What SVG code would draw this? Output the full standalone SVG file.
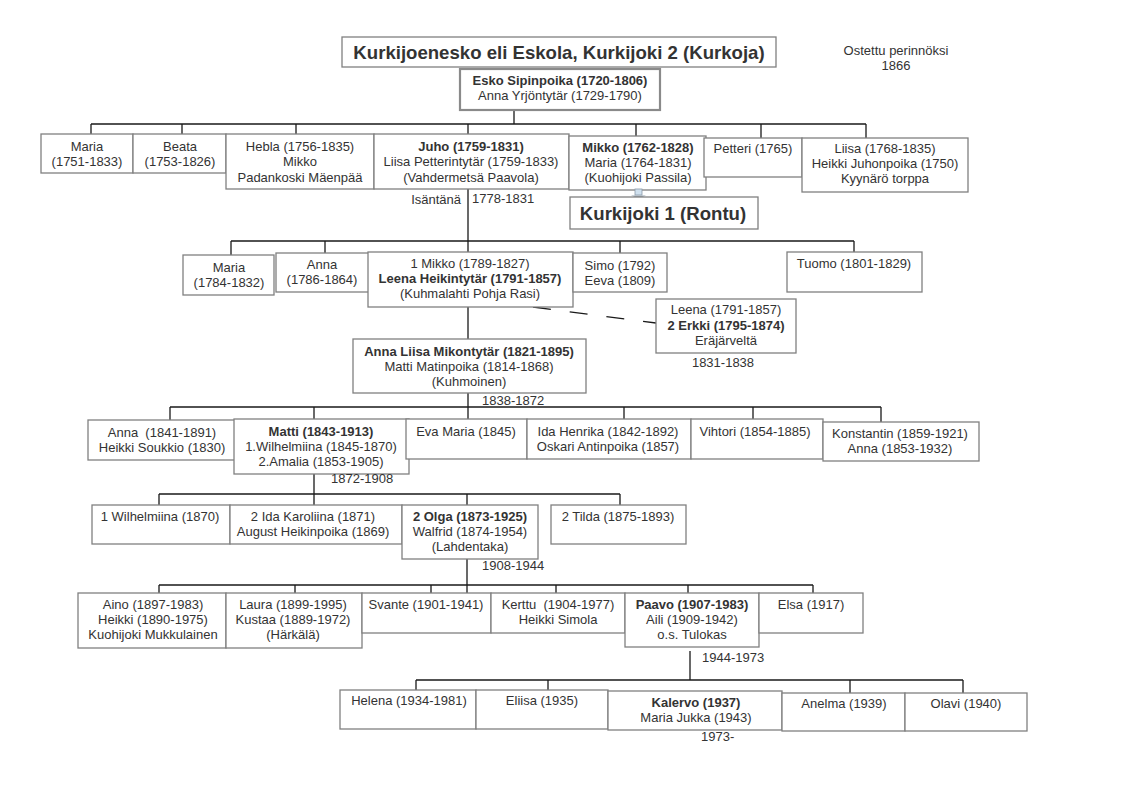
<svg xmlns="http://www.w3.org/2000/svg" width="1123" height="794" viewBox="0 0 1123 794">
<style>
.b{fill:#fff;stroke:#808080;stroke-width:1.3}
text{font-family:"Liberation Sans",Arial,sans-serif;font-size:13px;fill:#333;text-anchor:middle;white-space:pre}
.bd{font-weight:bold}
.big{font-size:18.6px;font-weight:bold}
.c{stroke:#1a1a1a;stroke-width:1.3;fill:none}
.s{text-anchor:start}
.e{text-anchor:end}
</style>
<rect x="0" y="0" width="1123" height="794" fill="#fff"/>
<g id="connectors">
<path class="c" d="M514 110V124 M91 124H866 M91 124V134 M182 124V134 M296 124V134 M468 124V134 M636 124V136 M761 124V138 M866 124V138
M468 189V252 M231 241H854 M231 241V255 M325 241V253 M620 241V253 M854 241V252
M468 307V339
M468 393V419 M170 407H881 M170 407V420 M314 407V419 M624 407V419 M753 407V419 M881 407V422
M314 474V505 M159 494H620 M159 494V505 M467 494V505 M620 494V505
M467 559V593 M159 585H813 M159 585V593 M295 585V593 M431 585V593 M556 585V593 M688 585V593 M813 585V593
M690 651V680 M416 680H963 M416 680V690 M548 680V690 M850 680V693 M963 680V693"/>
<path class="c" d="M533 307L656 323" stroke-dasharray="18,19"/>
</g>
<g id="title">
<rect class="b" x="342" y="37" width="434" height="30"/>
<text class="big" x="559" y="59">Kurkijoenesko eli Eskola, Kurkijoki 2 (Kurkoja)</text>
</g>
<g id="note">
<text x="896" y="55">Ostettu perinnöksi</text>
<text x="896" y="70">1866</text>
</g>
<g id="esko">
<rect x="460" y="69" width="200" height="41" fill="#fff" stroke="#8a8a8a" stroke-width="2.2"/>
<text class="bd" x="560" y="85">Esko Sipinpoika (1720-1806)</text>
<text x="560" y="100">Anna Yrjöntytär (1729-1790)</text>
</g>
<g id="maria1">
<rect class="b" x="41" y="134" width="92" height="39"/>
<text x="87" y="151">Maria</text><text x="87" y="166">(1751-1833)</text>
</g>
<g id="beata">
<rect class="b" x="133" y="134" width="93" height="39"/>
<text x="180" y="151">Beata</text><text x="180" y="166">(1753-1826)</text>
</g>
<g id="hebla">
<rect class="b" x="226" y="134" width="148" height="55"/>
<text x="300" y="151">Hebla (1756-1835)</text><text x="300" y="166">Mikko</text><text x="300" y="182">Padankoski Mäenpää</text>
</g>
<g id="juho">
<rect class="b" x="374" y="134" width="195" height="55"/>
<text class="bd" x="471" y="151">Juho (1759-1831)</text><text x="471" y="166">Liisa Petterintytär (1759-1833)</text><text x="471" y="182">(Vahdermetsä Paavola)</text>
</g>
<g id="mikko1">
<rect class="b" x="569" y="136" width="137" height="54"/>
<text class="bd" x="638" y="152">Mikko (1762-1828)</text><text x="638" y="167">Maria (1764-1831)</text><text x="638" y="182">(Kuohijoki Passila)</text>
</g>
<g id="petteri">
<rect class="b" x="704" y="138" width="98" height="39"/>
<text x="753" y="153">Petteri (1765)</text>
</g>
<g id="liisa">
<rect class="b" x="802" y="138" width="166" height="54"/>
<text x="885" y="153">Liisa (1768-1835)</text><text x="885" y="168">Heikki Juhonpoika (1750)</text><text x="885" y="183">Kyynärö torppa</text>
</g>
<g id="isantana">
<text class="e" x="461" y="204">Isäntänä</text>
<text class="s" x="472" y="203">1778-1831</text>
</g>
<g id="link-icon">
<rect x="635" y="189" width="7" height="6" fill="#cfe0ee" stroke="#8a9aa8" stroke-width="0.8"/>
<polygon points="631,195.5 646,195.5 638.5,198.5" fill="#9aa8b4"/>
</g>
<g id="kurkijoki1">
<rect class="b" x="570" y="197" width="188" height="32"/>
<text class="big" x="663" y="220">Kurkijoki 1 (Rontu)</text>
</g>
<g id="maria2">
<rect class="b" x="183" y="255" width="91" height="40"/>
<text x="229" y="272">Maria</text><text x="229" y="287">(1784-1832)</text>
</g>
<g id="anna2">
<rect class="b" x="276" y="253" width="93" height="39"/>
<text x="322" y="269">Anna</text><text x="322" y="284">(1786-1864)</text>
</g>
<g id="mikko2">
<rect class="b" x="368" y="252" width="205" height="55"/>
<text x="470" y="268">1 Mikko (1789-1827)</text><text class="bd" x="470" y="283">Leena Heikintytär (1791-1857)</text><text x="470" y="298">(Kuhmalahti Pohja Rasi)</text>
</g>
<g id="simo">
<rect class="b" x="573" y="253" width="94" height="39"/>
<text x="620" y="270">Simo (1792)</text><text x="620" y="285">Eeva (1809)</text>
</g>
<g id="tuomo">
<rect class="b" x="787" y="252" width="135" height="40"/>
<text x="854" y="268">Tuomo (1801-1829)</text>
</g>
<g id="erkki">
<rect class="b" x="656" y="299" width="140" height="54"/>
<text x="726" y="314">Leena (1791-1857)</text><text class="bd" x="726" y="330">2 Erkki (1795-1874)</text><text x="726" y="345">Eräjärveltä</text>
<text x="723" y="367">1831-1838</text>
</g>
<g id="annaliisa">
<rect class="b" x="353" y="339" width="233" height="54"/>
<text class="bd" x="469" y="356">Anna Liisa Mikontytär (1821-1895)</text><text x="469" y="371">Matti Matinpoika (1814-1868)</text><text x="469" y="386">(Kuhmoinen)</text>
<text class="s" x="482" y="405">1838-1872</text>
</g>
<g id="anna3">
<rect class="b" x="88" y="420" width="149" height="40"/>
<text x="162" y="437">Anna  (1841-1891)</text><text x="162" y="452">Heikki Soukkio (1830)</text>
</g>
<g id="matti">
<rect class="b" x="234" y="419" width="175" height="55"/>
<text class="bd" x="321" y="436">Matti (1843-1913)</text><text x="321" y="451">1.Wilhelmiina (1845-1870)</text><text x="321" y="466">2.Amalia (1853-1905)</text>
<text class="s" x="331" y="483">1872-1908</text>
</g>
<g id="evamaria">
<rect class="b" x="406" y="419" width="121" height="40"/>
<text x="466" y="436">Eva Maria (1845)</text>
</g>
<g id="ida">
<rect class="b" x="527" y="419" width="164" height="40"/>
<text x="608" y="436">Ida Henrika (1842-1892)</text><text x="608" y="451">Oskari Antinpoika (1857)</text>
</g>
<g id="vihtori">
<rect class="b" x="691" y="419" width="132" height="40"/>
<text x="755" y="436">Vihtori (1854-1885)</text>
</g>
<g id="konstantin">
<rect class="b" x="823" y="422" width="156" height="39"/>
<text x="900" y="438">Konstantin (1859-1921)</text><text x="900" y="453">Anna (1853-1932)</text>
</g>
<g id="wilhelmiina">
<rect class="b" x="92" y="505" width="138" height="39"/>
<text x="160" y="521">1 Wilhelmiina (1870)</text>
</g>
<g id="idakaroliina">
<rect class="b" x="230" y="505" width="172" height="39"/>
<text x="313" y="521">2 Ida Karoliina (1871)</text><text x="313" y="536">August Heikinpoika (1869)</text>
</g>
<g id="olga">
<rect class="b" x="402" y="505" width="136" height="54"/>
<text class="bd" x="470" y="521">2 Olga (1873-1925)</text><text x="470" y="536">Walfrid (1874-1954)</text><text x="470" y="551">(Lahdentaka)</text>
<text class="s" x="482" y="570">1908-1944</text>
</g>
<g id="tilda">
<rect class="b" x="551" y="505" width="135" height="39"/>
<text x="618" y="521">2 Tilda (1875-1893)</text>
</g>
<g id="aino">
<rect class="b" x="78" y="593" width="148" height="55"/>
<text x="153" y="609">Aino (1897-1983)</text><text x="153" y="624">Heikki (1890-1975)</text><text x="153" y="639">Kuohijoki Mukkulainen</text>
</g>
<g id="laura">
<rect class="b" x="226" y="593" width="136" height="55"/>
<text x="293" y="609">Laura (1899-1995)</text><text x="293" y="624">Kustaa (1889-1972)</text><text x="293" y="639">(Härkälä)</text>
</g>
<g id="svante">
<rect class="b" x="362" y="593" width="129" height="40"/>
<text x="426" y="609">Svante (1901-1941)</text>
</g>
<g id="kerttu">
<rect class="b" x="491" y="593" width="134" height="40"/>
<text x="558" y="609">Kerttu  (1904-1977)</text><text x="558" y="624">Heikki Simola</text>
</g>
<g id="paavo">
<rect class="b" x="625" y="593" width="134" height="54"/>
<text class="bd" x="692" y="609">Paavo (1907-1983)</text><text x="692" y="624">Aili (1909-1942)</text><text x="692" y="639">o.s. Tulokas</text>
<text class="s" x="702" y="662">1944-1973</text>
</g>
<g id="elsa">
<rect class="b" x="759" y="593" width="104" height="40"/>
<text x="811" y="609">Elsa (1917)</text>
</g>
<g id="helena">
<rect class="b" x="340" y="690" width="136" height="39"/>
<text x="409" y="705">Helena (1934-1981)</text>
</g>
<g id="eliisa">
<rect class="b" x="476" y="690" width="132" height="39"/>
<text x="542" y="705">Eliisa (1935)</text>
</g>
<g id="kalervo">
<rect class="b" x="608" y="691" width="174" height="39"/>
<text class="bd" x="696" y="707">Kalervo (1937)</text><text x="696" y="722">Maria Jukka (1943)</text>
<text class="s" x="701" y="741">1973-</text>
</g>
<g id="anelma">
<rect class="b" x="782" y="693" width="123" height="38"/>
<text x="844" y="708">Anelma (1939)</text>
</g>
<g id="olavi">
<rect class="b" x="905" y="693" width="122" height="38"/>
<text x="966" y="708">Olavi (1940)</text>
</g>
</svg>
